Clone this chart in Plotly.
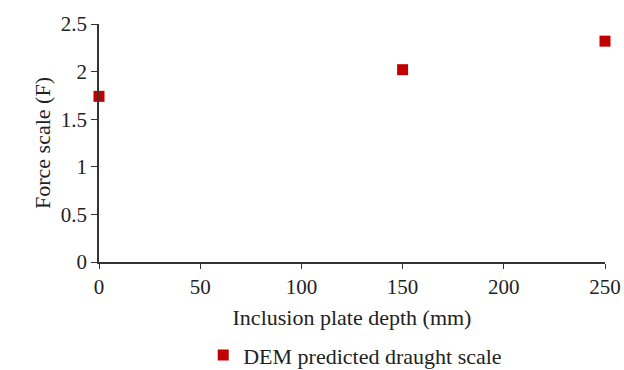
import plotly.graph_objects as go

depth_mm = [0, 150, 250]
force_scale = [1.74, 2.02, 2.32]
series_name = "DEM predicted draught scale"
x_ticks = [0, 50, 100, 150, 200, 250]
y_ticks = [0, 0.5, 1, 1.5, 2, 2.5]
y_tick_text = ["0", "0.5", "1", "1.5", "2", "2.5"]

serif = "Liberation Serif, Times New Roman, serif"
ink = "#222"
tick_font = dict(family=serif, size=21, color=ink)
label_font = dict(family=serif, size=22, color=ink)

fig = go.Figure()
fig.add_trace(go.Scatter(
    x=depth_mm, y=force_scale, mode="markers", name=series_name,
    marker=dict(symbol="square", size=11, color="#C00000"),
    cliponaxis=False,
))

fig.update_layout(
    width=624, height=370,
    margin=dict(l=99, r=19, t=24, b=108, autoexpand=False),
    paper_bgcolor="white", plot_bgcolor="white",
    font=label_font,
    showlegend=True,
    legend=dict(orientation="h", x=0.206, xanchor="left",
                yref="container", y=0.04, yanchor="middle",
                font=label_font, itemwidth=30),
    xaxis=dict(range=[0, 250], tickvals=x_ticks, showgrid=False, zeroline=False,
               automargin=False,
               showline=True, linecolor="#333", linewidth=1.5,
               ticks="outside", ticklen=5, tickcolor="#333",
               tickfont=tick_font,
               title=dict(text="Inclusion plate depth (mm)", standoff=12, font=label_font)),
    yaxis=dict(range=[0, 2.5], tickvals=y_ticks, ticktext=y_tick_text, showgrid=False,
               automargin=False,
               zeroline=False, showline=True, linecolor="#333", linewidth=1.5,
               ticks="outside", ticklen=6, tickcolor="#333",
               tickfont=tick_font,
               title=dict(text="Force scale (F)", standoff=4, font=label_font)),
)

fig.write_html("out.html")
